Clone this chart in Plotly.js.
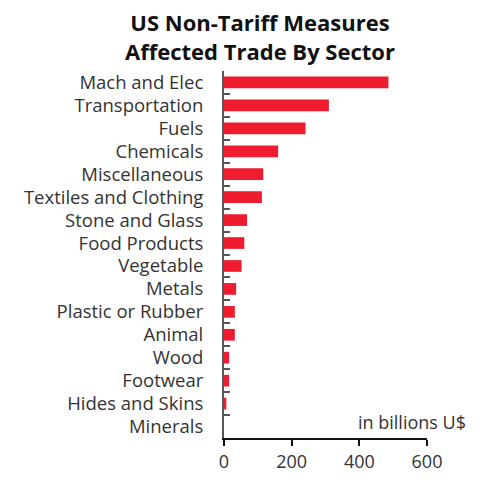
<!DOCTYPE html>
<html>
<head>
<meta charset="utf-8">
<script src="https://cdn.plot.ly/plotly-3.0.1.min.js"></script>
<style>html,body{margin:0;padding:0;background:#fff;}#chart{width:491px;height:483px;}</style>
</head>
<body>
<div id="chart"></div>
<script>
const sectors = ["Mach and Elec","Transportation","Fuels","Chemicals","Miscellaneous","Textiles and Clothing","Stone and Glass","Food Products","Vegetable","Metals","Plastic or Rubber","Animal","Wood","Footwear","Hides and Skins","Minerals"];
const values = [486,310,241,160,116,112,68,60,52,36,32,32,15,15,7,0];
const xTicks = [0,200,400,600];

const trace = {
  type: "bar",
  orientation: "h",
  y: sectors,
  x: values,
  marker: {color: "#ee1c2e", line: {width: 0}},
  hoverinfo: "none"
};

const layout = {
  width: 491, height: 483,
  margin: {l: 224, r: 64, t: 71, b: 45},
  paper_bgcolor: "#fff", plot_bgcolor: "#fff",
  font: {family: "Open Sans, sans-serif", color: "#333"},
  bargap: 0.49,
  showlegend: false,
  xaxis: {
    range: [0, 600], tickvals: xTicks, ticktext: xTicks.map(String),
    showgrid: false, zeroline: false,
    showline: true, linecolor: "#111", linewidth: 2,
    ticks: "outside", ticklen: 6, tickwidth: 2, tickcolor: "#111",
    tickfont: {size: 18, color: "#333"}, fixedrange: true
  },
  yaxis: {
    categoryorder: "array", categoryarray: sectors,
    autorange: "reversed",
    showgrid: false, zeroline: false,
    showline: true, linecolor: "#555", linewidth: 2,
    ticks: "inside", tickson: "boundaries", ticklen: 6, tickwidth: 2, tickcolor: "#555",
    tickfont: {size: 18.5, color: "#333"}, ticklabelstandoff: 15, fixedrange: true
  },
  annotations: [
    {
      text: "<b>US Non-Tariff Measures<br>Affected Trade By Sector</b>",
      xref: "paper", yref: "paper", x: 0.177, y: 1.18,
      xanchor: "center", yanchor: "top", showarrow: false,
      font: {family: "Open Sans, sans-serif", size: 22, color: "#111"}
    },
    {
      text: "in billions U$", xref: "paper", yref: "paper",
      x: 1.2, y: 0.005, xanchor: "right", yanchor: "bottom",
      showarrow: false, font: {size: 18, color: "#333"}
    }
  ]
};

Plotly.newPlot("chart", [trace], layout, {displayModeBar: false, staticPlot: true});
</script>
</body>
</html>
